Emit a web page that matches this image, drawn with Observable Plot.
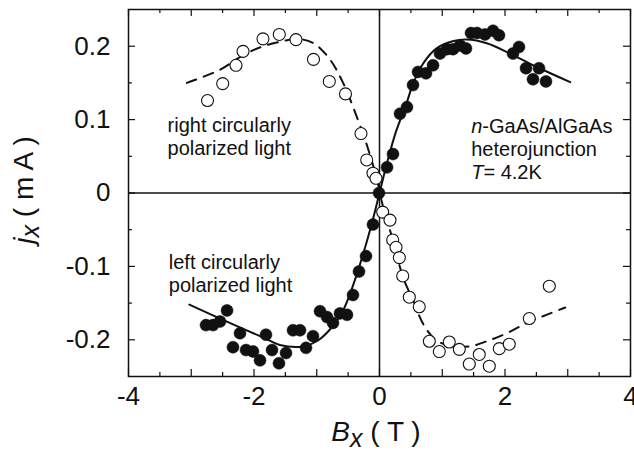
<!DOCTYPE html>
<html><head><meta charset="utf-8">
<script src="https://cdn.jsdelivr.net/npm/d3@7"></script>
<script src="https://cdn.jsdelivr.net/npm/@observablehq/plot@0.6"></script>
<style>html,body{margin:0;padding:0;background:#fff}#chart{width:634px;height:453px}</style>
</head><body><div id="chart"></div>
<script>
// Filled circles: left circularly polarized light
const filledB = [-2.765,-2.653,-2.542,-2.430,-2.223,-2.335,-2.127,-2.016,-1.904,-1.809,-1.713,-1.602,-1.490,-1.378,-1.267,-1.171,-1.060,-0.948,-0.837,-0.741,-0.630,-0.518,-0.422,-0.327,-0.215,-0.104,-0.008,0.120,0.215,0.327,0.438,0.534,0.614,0.741,0.853,0.964,1.076,1.171,1.283,1.378,1.458,1.554,1.681,1.809,1.904,2.127,2.223,2.335,2.446,2.542,2.653];
const filledJ = [-0.180,-0.180,-0.175,-0.160,-0.191,-0.210,-0.214,-0.216,-0.228,-0.193,-0.214,-0.232,-0.218,-0.187,-0.187,-0.211,-0.195,-0.161,-0.169,-0.177,-0.164,-0.166,-0.139,-0.107,-0.086,-0.043,0.000,0.035,0.053,0.108,0.117,0.147,0.165,0.163,0.174,0.190,0.196,0.196,0.201,0.197,0.218,0.218,0.216,0.221,0.215,0.190,0.199,0.170,0.155,0.170,0.152];
// Open circles: right circularly polarized light
const openB = [-2.741,-2.499,-2.287,-2.175,-1.857,-1.597,-1.331,-1.052,-0.800,-0.542,-0.295,-0.204,-0.104,-0.056,0.051,0.167,0.210,0.263,0.316,0.370,0.475,0.634,0.794,0.953,1.112,1.272,1.431,1.590,1.750,1.909,2.068,2.387,2.706];
const openJ = [0.126,0.149,0.174,0.193,0.210,0.216,0.209,0.182,0.152,0.135,0.081,0.045,0.027,0.020,-0.026,-0.037,-0.064,-0.074,-0.088,-0.113,-0.142,-0.155,-0.202,-0.216,-0.203,-0.213,-0.233,-0.220,-0.236,-0.212,-0.206,-0.171,-0.127];
// Solid fit curve (left circular)
const solidB = [-3.03,-2.44,-1.85,-1.59,-1.21,-1.0,-0.79,-0.58,-0.43,-0.26,-0.12,0,0.12,0.26,0.43,0.54,0.70,0.91,1.18,1.39,1.71,2.08,2.50,3.04];
const solidJ = [-0.152,-0.175,-0.197,-0.207,-0.209,-0.202,-0.186,-0.160,-0.128,-0.083,-0.041,0,0.041,0.083,0.122,0.150,0.177,0.197,0.207,0.209,0.204,0.190,0.172,0.151];
// Dashed fit curve (right circular)
const dashB = [-3.07,-2.54,-2.17,-1.85,-1.53,-1.32,-1.05,-0.79,-0.58,-0.363,-0.204,-0.045,0.06,0.22,0.38,0.54,0.70,0.91,1.18,1.44,1.71,2.03,2.35,2.66,2.96];
const dashJ = [0.150,0.168,0.188,0.200,0.207,0.210,0.204,0.182,0.150,0.104,0.066,0.020,-0.020,-0.066,-0.116,-0.147,-0.179,-0.201,-0.209,-0.209,-0.202,-0.191,-0.177,-0.166,-0.156];
// Ticks
const xMajorTicks = [-4,-3,-2,-1,0,1,2,3,4];
const xMinorTicks = [-3.5,-2.5,-1.5,-0.5,0.5,1.5,2.5,3.5];
const xTickLabels = [-4,-2,0,2,4];
const yMajorTicks = [-0.2,-0.1,0,0.1,0.2];
const yMinorTicks = [-0.15,-0.05,0.05,0.15];
const yTickLabels = [-0.2,-0.1,0,0.1,0.2];
// Annotations
const noteB = [-3.37, -3.35, 1.47];
const noteJ = [0.0826, -0.1042, 0.0816];
const noteLines = [
  [[["right circularly",false]],[["polarized light",false]]],
  [[["left circularly",false]],[["polarized light",false]]],
  [[["n",true],["-GaAs/AlGaAs",false]],[["heterojunction",false]],[["T",true],["= 4.2K",false]]]
];

const filled = filledB.map((b,i)=>({b, j: filledJ[i]}));
const open = openB.map((b,i)=>({b, j: openJ[i]}));
const solid = solidB.map((b,i)=>({b, j: solidJ[i]}));
const dash = dashB.map((b,i)=>({b, j: dashJ[i]}));

const ink = "#111";
const font = "'Liberation Sans', Arial, Helvetica, sans-serif";
const W = 634, H = 453, mT = 9, mR = 4, mB = 77, mL = 128;
const fw = W - mL - mR, fh = H - mT - mB;
const majorLen = 7, minorLen = 4;

const plot = Plot.plot({
  width: W, height: H,
  marginTop: mT, marginRight: mR, marginBottom: mB, marginLeft: mL,
  style: {fontFamily: font, fontSize: "26px", color: ink, background: "#fff", overflow: "visible"},
  x: {domain: [-4, 4]},
  y: {domain: [-0.25, 0.25]},
  marks: [
    Plot.ruleX([0], {stroke: ink, strokeWidth: 1.5}),
    Plot.ruleY([0], {stroke: ink, strokeWidth: 1.5}),
    // inward ticks on all four sides
    Plot.ruleX(xMajorTicks, {x: d => d, insetTop: fh - majorLen, stroke: ink, strokeWidth: 1.2}),
    Plot.ruleX(xMinorTicks, {x: d => d, insetTop: fh - minorLen, stroke: ink, strokeWidth: 1.2}),
    Plot.ruleX(xMajorTicks, {x: d => d, insetBottom: fh - majorLen, stroke: ink, strokeWidth: 1.2}),
    Plot.ruleX(xMinorTicks, {x: d => d, insetBottom: fh - minorLen, stroke: ink, strokeWidth: 1.2}),
    Plot.ruleY(yMajorTicks, {y: d => d, insetRight: fw - majorLen, stroke: ink, strokeWidth: 1.2}),
    Plot.ruleY(yMinorTicks, {y: d => d, insetRight: fw - minorLen, stroke: ink, strokeWidth: 1.2}),
    Plot.ruleY(yMajorTicks, {y: d => d, insetLeft: fw - majorLen, stroke: ink, strokeWidth: 1.2}),
    Plot.ruleY(yMinorTicks, {y: d => d, insetLeft: fw - minorLen, stroke: ink, strokeWidth: 1.2}),
    // tick labels
    Plot.axisX(xTickLabels, {anchor: "bottom", tickSize: 0, tickPadding: 10, tickFormat: d => String(d), label: null, fontSize: 26, fill: ink}),
    Plot.axisY(yTickLabels, {anchor: "left", tickSize: 0, tickPadding: 18, tickFormat: d => String(d), label: null, fontSize: 26, fill: ink}),
    // fits
    Plot.line(solid, {x: "b", y: "j", stroke: ink, strokeWidth: 2, curve: "catmull-rom"}),
    Plot.line(dash, {x: "b", y: "j", stroke: ink, strokeWidth: 2, strokeDasharray: "10,8", curve: "catmull-rom"}),
    // data
    Plot.dot(open, {x: "b", y: "j", r: 6, stroke: ink, fill: "#fff", strokeWidth: 1.1}),
    Plot.dot(filled, {x: "b", y: "j", r: 6, fill: ink, stroke: ink, strokeWidth: 0.5}),
    Plot.frame({stroke: ink, strokeWidth: 1.5})
  ]
});
document.getElementById("chart").appendChild(plot);

const sx = plot.scale("x"), sy = plot.scale("y");
const svg = d3.select(plot);

// annotations (rich text)
noteLines.forEach((lines, k) => {
  const x0 = sx.apply(noteB[k]);
  const t = svg.append("text")
    .attr("x", x0).attr("y", sy.apply(noteJ[k]))
    .attr("text-anchor", "start")
    .attr("font-family", font).attr("font-size", 20).attr("fill", ink);
  lines.forEach((segs, li) => {
    segs.forEach(([s, it], si) => {
      const ts = t.append("tspan").text(s);
      if (si === 0) ts.attr("x", x0).attr("dy", li === 0 ? 0 : 23);
      if (it) ts.attr("font-style", "italic");
    });
  });
});

// x axis label: B_x ( T )
const xl = svg.append("text").attr("x", 376).attr("y", 441)
  .attr("text-anchor", "middle").attr("font-family", font).attr("font-size", 28).attr("fill", ink)
  .attr("xml:space", "preserve");
xl.append("tspan").attr("font-style", "italic").text("B");
xl.append("tspan").attr("font-style", "italic").attr("font-size", 25).attr("dy", 6).text("x");
xl.append("tspan").attr("dy", -6).text(" ( T )");

// y axis label: j_x ( m A )
const yl = svg.append("text").attr("transform", "translate(33,190) rotate(-90)")
  .attr("text-anchor", "middle").attr("font-family", font).attr("font-size", 28).attr("fill", ink)
  .attr("xml:space", "preserve");
yl.append("tspan").attr("font-style", "italic").text("j");
yl.append("tspan").attr("font-style", "italic").attr("font-size", 25).attr("dy", 6).text("x");
yl.append("tspan").attr("dy", -6).text(" ( m A )");
</script>
</body></html>
